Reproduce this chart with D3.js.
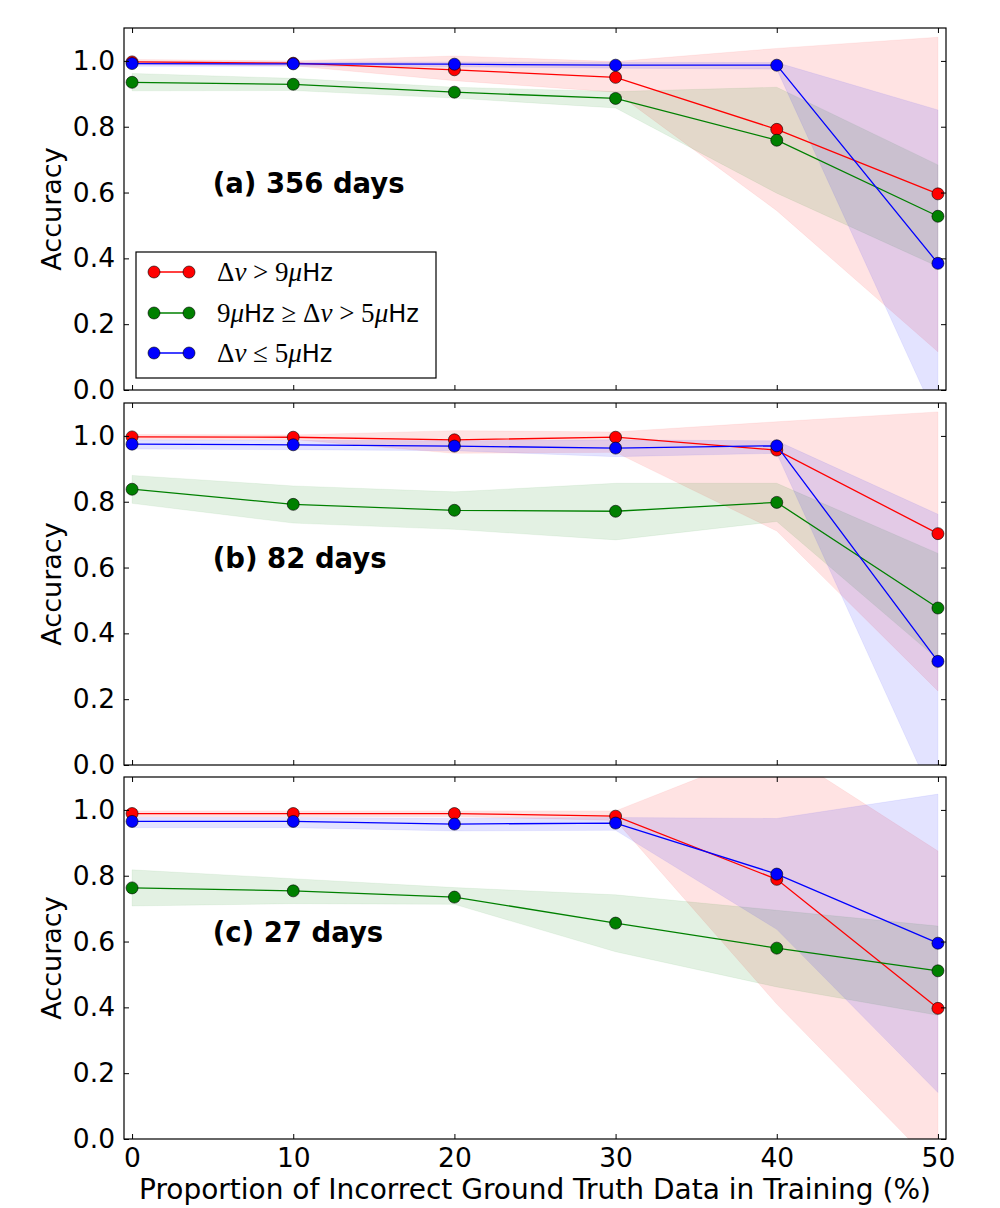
<!DOCTYPE html>
<html><head><meta charset="utf-8">
<script src="https://cdn.jsdelivr.net/npm/d3@7"></script>
<style>body{margin:0;background:#fff}svg{display:block}</style>
</head><body>
<script>
const xValues = [0, 10, 20, 30, 40, 50];
const xTicks = [0, 10, 20, 30, 40, 50];
const yTicks = [0.0, 0.2, 0.4, 0.6, 0.8, 1.0];
const panelLabels = ["(a) 356 days", "(b) 82 days", "(c) 27 days"];
const seriesColors = ["#ff0000", "#008000", "#0000ff"];

// Panel (a)
const a_red = [0.997, 0.993, 0.973, 0.950, 0.792, 0.596];
const a_redLo = [0.990, 0.985, 0.940, 0.905, 0.545, 0.116];
const a_redHi = [1.004, 1.000, 1.015, 0.998, 1.038, 1.072];
const a_green = [0.935, 0.929, 0.905, 0.886, 0.759, 0.528];
const a_greenLo = [0.909, 0.910, 0.887, 0.857, 0.598, 0.375];
const a_greenHi = [0.962, 0.947, 0.920, 0.907, 0.920, 0.684];
const a_blue = [0.992, 0.991, 0.990, 0.987, 0.987, 0.385];
const a_blueLo = [0.984, 0.984, 0.982, 0.978, 0.975, -0.096];
const a_blueHi = [0.998, 0.997, 0.997, 0.996, 0.995, 0.851];

// Panel (b)
const b_red = [0.997, 0.996, 0.988, 0.996, 0.957, 0.703];
const b_redLo = [0.990, 0.989, 0.947, 0.950, 0.711, 0.225];
const b_redHi = [1.004, 1.003, 1.016, 1.012, 1.043, 1.073];
const b_green = [0.838, 0.792, 0.774, 0.771, 0.798, 0.477];
const b_greenLo = [0.795, 0.735, 0.716, 0.684, 0.740, 0.321];
const b_greenHi = [0.880, 0.848, 0.830, 0.856, 0.856, 0.643];
const b_blue = [0.975, 0.973, 0.969, 0.963, 0.970, 0.315];
const b_blueLo = [0.960, 0.958, 0.955, 0.937, 0.947, -0.13];
const b_blueHi = [0.988, 0.987, 0.985, 0.988, 0.985, 0.762];

// Panel (c)
const c_red = [0.989, 0.989, 0.989, 0.981, 0.789, 0.397];
const c_redLo = [0.980, 0.980, 0.980, 0.968, 0.410, -0.09];
const c_redHi = [0.997, 0.997, 0.997, 0.997, 1.190, 0.875];
const c_green = [0.763, 0.754, 0.735, 0.656, 0.580, 0.511];
const c_greenLo = [0.708, 0.715, 0.713, 0.569, 0.462, 0.376];
const c_greenHi = [0.818, 0.791, 0.764, 0.742, 0.695, 0.647];
const c_blue = [0.965, 0.965, 0.957, 0.960, 0.805, 0.595];
const c_blueLo = [0.946, 0.946, 0.936, 0.938, 0.637, 0.141];
const c_blueHi = [0.977, 0.977, 0.975, 0.977, 0.974, 1.048];

const panels = [
  [[a_red, a_redLo, a_redHi], [a_green, a_greenLo, a_greenHi], [a_blue, a_blueLo, a_blueHi]],
  [[b_red, b_redLo, b_redHi], [b_green, b_greenLo, b_greenHi], [b_blue, b_blueLo, b_blueHi]],
  [[c_red, c_redLo, c_redHi], [c_green, c_greenLo, c_greenHi], [c_blue, c_blueLo, c_blueHi]]
];

const W = 1000, H = 1208;
const left = 124, right = 946;
const tops = [28, 403, 777];
const ph = 362;

const svg = d3.select("body").append("svg").attr("width", W).attr("height", H)
  .style("font-family", "'DejaVu Sans', sans-serif");

const x = d3.scaleLinear().domain([-0.5, 50.5]).range([left, right]);

panels.forEach((series, pi) => {
  const top = tops[pi];
  const y = d3.scaleLinear().domain([0, 1.1]).range([top + ph, top]);
  const g = svg.append("g");
  const clipId = "clip" + pi;
  svg.append("defs").append("clipPath").attr("id", clipId)
    .append("rect").attr("x", left).attr("y", top).attr("width", right - left).attr("height", ph);
  const plot = g.append("g").attr("clip-path", `url(#${clipId})`);

  const area = d3.area().x((d, i) => x(xValues[i])).y0(d => y(d[0])).y1(d => y(d[1]));
  series.forEach((s, si) => {
    const pts = s[1].map((lo, i) => [lo, s[2][i]]);
    plot.append("path").attr("d", area(pts))
      .attr("fill", seriesColors[si]).attr("fill-opacity", 0.11)
      .attr("stroke", seriesColors[si]).attr("stroke-opacity", 0.06).attr("stroke-width", 1);
  });
  const line = d3.line().x((d, i) => x(xValues[i])).y(d => y(d));
  series.forEach((s, si) => {
    plot.append("path").attr("d", line(s[0])).attr("fill", "none")
      .attr("stroke", seriesColors[si]).attr("stroke-width", 1.3);
    plot.selectAll(null).data(s[0]).enter().append("circle")
      .attr("cx", (d, i) => x(xValues[i])).attr("cy", d => y(d)).attr("r", 6)
      .attr("fill", seriesColors[si]).attr("stroke", "#000").attr("stroke-width", 0.6);
  });

  // axes with inward ticks on all four sides
  const axL = d3.axisLeft(y).tickValues(yTicks).tickSize(-5).tickPadding(9).tickFormat(d3.format(".1f"));
  const axR = d3.axisRight(y).tickValues(yTicks).tickSize(-5).tickFormat("");
  const axB = d3.axisBottom(x).tickValues(xTicks).tickSize(-5).tickPadding(9).tickFormat(pi === 2 ? d3.format("d") : "");
  const axT = d3.axisTop(x).tickValues(xTicks).tickSize(-5).tickFormat("");
  const gl = g.append("g").attr("transform", `translate(${left},0)`).call(axL);
  const gr = g.append("g").attr("transform", `translate(${right},0)`).call(axR);
  const gb = g.append("g").attr("transform", `translate(0,${top + ph})`).call(axB);
  const gt = g.append("g").attr("transform", `translate(0,${top})`).call(axT);
  [gl, gr, gb, gt].forEach(a => {
    a.select(".domain").remove();
    a.selectAll("line").attr("stroke", "#000").attr("stroke-width", 1);
    a.selectAll("text").attr("fill", "#000").style("font-size", "26.5px").style("font-family", "'DejaVu Sans', sans-serif");
  });
  g.append("rect").attr("x", left).attr("y", top).attr("width", right - left).attr("height", ph)
    .attr("fill", "none").attr("stroke", "#000").attr("stroke-width", 1.2);

  g.append("text").attr("x", x(5)).attr("y", y(0.6)).text(panelLabels[pi])
    .style("font-size", "27.5px").style("font-weight", "bold");

  g.append("text").attr("transform", `translate(61,${top + ph / 2}) rotate(-90)`)
    .attr("text-anchor", "middle").style("font-size", "27px").text("Accuracy");
});

svg.append("text").attr("x", 535).attr("y", 1199).attr("text-anchor", "middle")
  .style("font-size", "28px").text("Proportion of Incorrect Ground Truth Data in Training (%)");

// Legend
const lg = svg.append("g");
lg.append("rect").attr("x", 136).attr("y", 252).attr("width", 300).attr("height", 126)
  .attr("fill", "#fff").attr("stroke", "#000").attr("stroke-width", 1.2);
const legendRows = [
  [["Δ", "n"], ["ν", "i"], [" > 9", "n"], ["μ", "i"], ["Hz", "s"]],
  [["9", "n"], ["μ", "i"], ["Hz", "s"], [" ≥ Δ", "n"], ["ν", "i"], [" > 5", "n"], ["μ", "i"], ["Hz", "s"]],
  [["Δ", "n"], ["ν", "i"], [" ≤ 5", "n"], ["μ", "i"], ["Hz", "s"]]
];
const rowY = [272, 313, 353];
legendRows.forEach((row, i) => {
  const yy = rowY[i];
  lg.append("line").attr("x1", 154).attr("x2", 189).attr("y1", yy).attr("y2", yy)
    .attr("stroke", seriesColors[i]).attr("stroke-width", 1.3);
  [154, 189].forEach(cx => lg.append("circle").attr("cx", cx).attr("cy", yy).attr("r", 6)
    .attr("fill", seriesColors[i]).attr("stroke", "#000").attr("stroke-width", 0.6));
  const t = lg.append("text").attr("x", 217).attr("y", yy + 9).attr("xml:space", "preserve");
  row.forEach(([s, k]) => {
    const ts = t.append("tspan").text(s);
    if (k === "s") ts.style("font-family", "'DejaVu Sans', sans-serif").style("font-size", "24px");
    else ts.style("font-family", "'Liberation Serif', serif").style("font-size", "27px")
      .style("font-style", k === "i" ? "italic" : "normal");
  });
});
</script>
</body></html>
